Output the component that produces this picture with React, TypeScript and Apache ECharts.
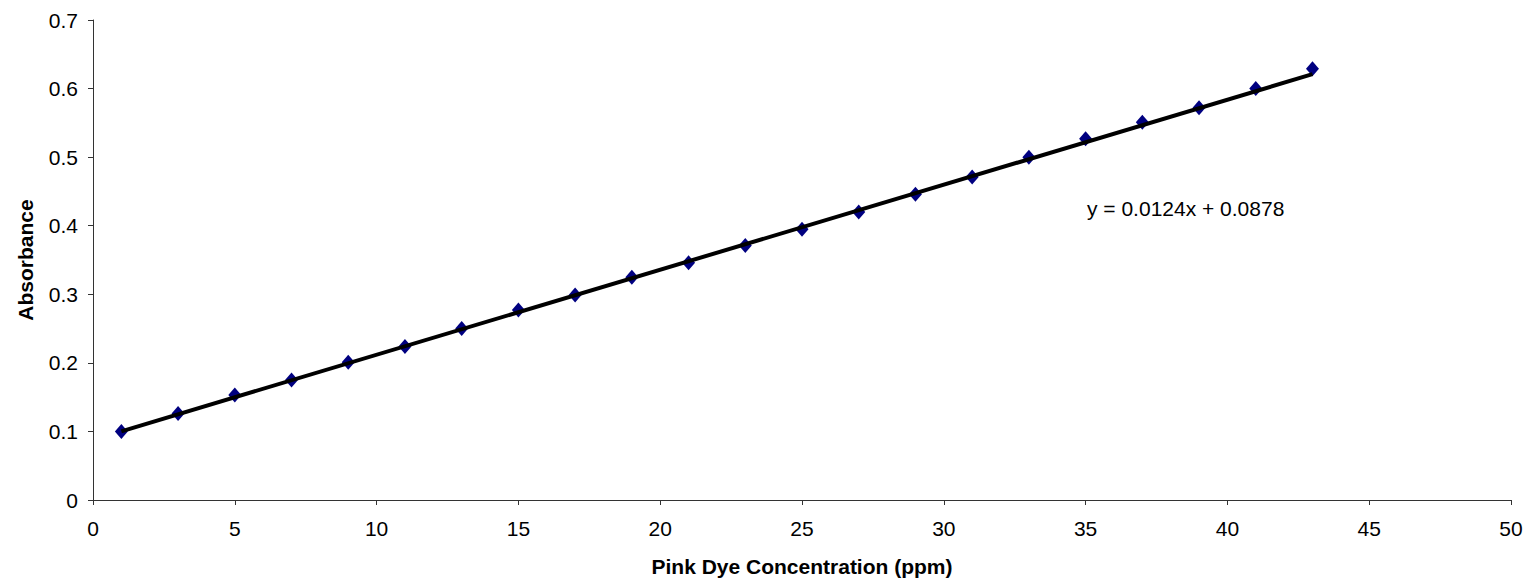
import React, { useEffect, useRef } from "react";
import * as echarts from "echarts";

const concentrations = [1, 3, 5, 7, 9, 11, 13, 15, 17, 19, 21, 23, 25, 27, 29, 31, 33, 35, 37, 39, 41, 43];
const absorbances = [
  0.1, 0.126, 0.153, 0.175, 0.201, 0.224, 0.25, 0.277, 0.299, 0.325, 0.346,
  0.371, 0.395, 0.42, 0.446, 0.471, 0.5, 0.527, 0.551, 0.572, 0.6, 0.629,
];
const slope = 0.0124;
const intercept = 0.0878;
const equationLabel = "y = 0.0124x + 0.0878";
const xTitle = "Pink Dye Concentration (ppm)";
const yTitle = "Absorbance";

export default function App() {
  const ref = useRef<HTMLDivElement>(null);
  useEffect(() => {
    if (!ref.current) return;
    const chart = echarts.init(ref.current, null, { renderer: "svg" });
    const font = "'Liberation Sans', Arial, sans-serif";
    const xStart = concentrations[0];
    const xEnd = concentrations[concentrations.length - 1];
    const trend = [
      [xStart, slope * xStart + intercept],
      [xEnd, slope * xEnd + intercept],
    ];
    chart.setOption({
      animation: false,
      backgroundColor: "#ffffff",
      grid: { left: 93, right: 19, top: 20, bottom: 85, containLabel: false },
      xAxis: {
        type: "value",
        min: 0,
        max: 50,
        interval: 5,
        name: xTitle,
        nameLocation: "middle",
        nameGap: 56,
        nameTextStyle: { fontFamily: font, fontSize: 21, fontWeight: "bold", color: "#000" },
        axisLine: { show: true, lineStyle: { color: "#333", width: 1 } },
        axisTick: { show: true, inside: false, length: 5, lineStyle: { color: "#333" } },
        axisLabel: { fontFamily: font, fontSize: 21, color: "#000", margin: 18 },
        splitLine: { show: false },
      },
      yAxis: {
        type: "value",
        min: 0,
        max: 0.7,
        interval: 0.1,
        name: yTitle,
        nameLocation: "middle",
        nameGap: 57,
        nameRotate: 90,
        nameTextStyle: { fontFamily: font, fontSize: 21, fontWeight: "bold", color: "#000" },
        axisLine: { show: true, lineStyle: { color: "#333", width: 1 } },
        axisTick: { show: true, inside: false, length: 5, lineStyle: { color: "#333" } },
        axisLabel: {
          fontFamily: font,
          fontSize: 21,
          color: "#000",
          margin: 15,
          formatter: (v: number) => String(Math.round(v * 10) / 10),
        },
        splitLine: { show: false },
      },
      graphic: [
        {
          type: "text",
          left: 1087,
          top: 198,
          style: { text: equationLabel, fontFamily: font, fontSize: 21, fill: "#000" },
        },
      ],
      series: [
        {
          type: "scatter",
          data: concentrations.map((c, i) => [c, absorbances[i]]),
          symbol: "diamond",
          symbolSize: [13, 15],
          itemStyle: { color: "#000080", opacity: 1 },
          z: 2,
        },
        {
          type: "line",
          data: trend,
          symbol: "none",
          lineStyle: { color: "#000", width: 4 },
          z: 3,
        },
      ],
    });
    return () => chart.dispose();
  }, []);
  return (
    <div
      ref={ref}
      style={{ position: "fixed", left: 0, top: 0, width: 1530, height: 585, background: "#fff" }}
    />
  );
}
